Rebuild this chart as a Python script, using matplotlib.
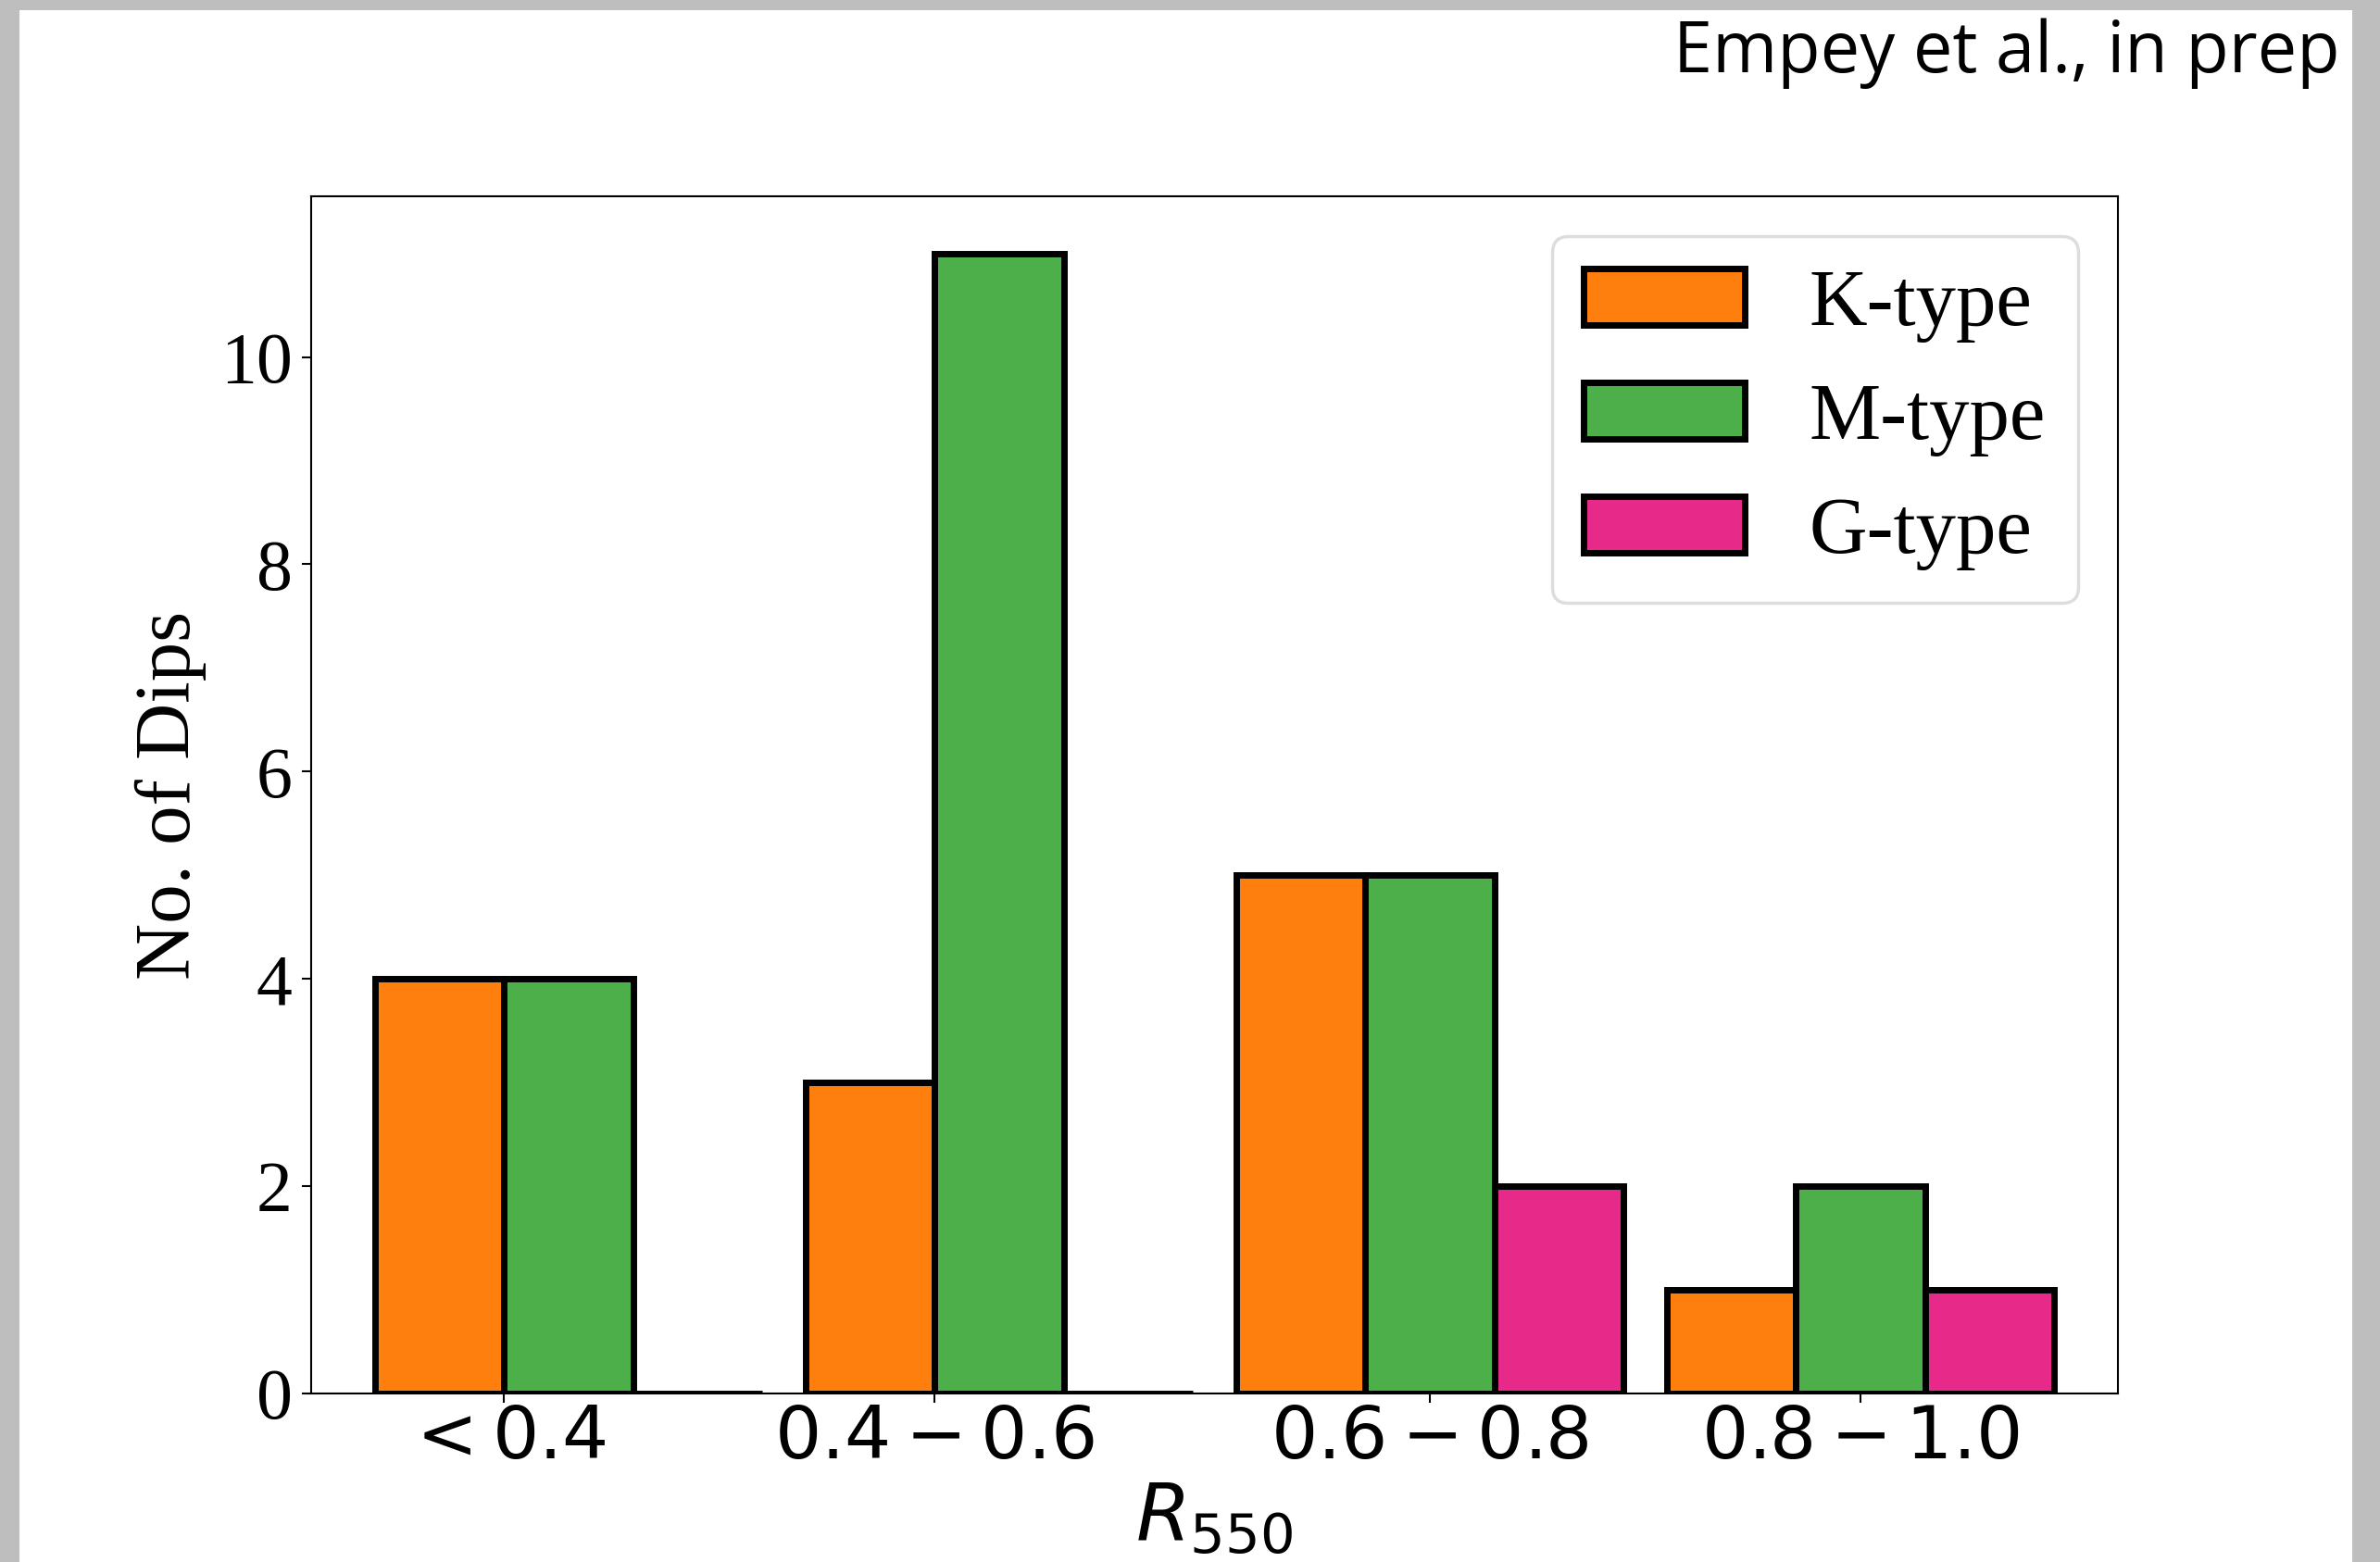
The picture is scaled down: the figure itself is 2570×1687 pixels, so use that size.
import matplotlib
matplotlib.use("Agg")
import matplotlib.pyplot as plt
from matplotlib.patches import Rectangle
import numpy as np

# ---- data ----
categories = [r"$<0.4$", r"$0.4-0.6$", r"$0.6-0.8$", r"$0.8-1.0$"]
k_type = [4, 3, 5, 1]
m_type = [4, 11, 5, 2]
g_type = [0, 0, 2, 1]
series_names = ["K-type", "M-type", "G-type"]
series_colors = ["#ff7f0e", "#4daf4a", "#e7298a"]
yticks = [0, 2, 4, 6, 8, 10]

plt.rcParams["font.family"] = ["Liberation Serif", "DejaVu Serif"]
plt.rcParams["mathtext.fontset"] = "dejavusans"

W, H = 2570, 1687
fig = plt.figure(figsize=(W / 100, H / 100), dpi=100)
fig.patch.set_facecolor("#bebebe")
fig.add_artist(Rectangle((21 / W, 0), (2540 - 21) / W, (H - 11) / H,
                         transform=fig.transFigure, facecolor="white",
                         edgecolor="none", zorder=-1))

ax_l, ax_r, ax_t, ax_b = 336, 2287, 212, 1505
ax = fig.add_axes([ax_l / W, (H - ax_b) / H, (ax_r - ax_l) / W, (ax_b - ax_t) / H])

x = np.arange(len(categories))
w = 0.3
offsets = [-0.15, 0.15, 0.45]
all_vals = [k_type, m_type, g_type]
for vals, off, name, col in zip(all_vals, offsets, series_names, series_colors):
    ax.bar(x + off, vals, width=w, color=col, edgecolor="black", linewidth=5,
           label=name, zorder=2)

# tick at the centre of the non-empty bars in each group
tick_pos = []
for i in range(len(categories)):
    cs = [i + off for vals, off in zip(all_vals, offsets) if vals[i] > 0]
    tick_pos.append(np.mean(cs))

ax.set_xlim(-0.448, 3.748)
ax.set_ylim(0, 11.55)
ax.set_xticks(tick_pos)
ax.set_xticklabels(categories)
ax.set_yticks(yticks)
ax.tick_params(axis="x", labelsize=57, length=7.5, width=1.5, pad=4)
ax.tick_params(axis="y", labelsize=56, length=7.5, width=1.5, pad=7)
for s in ax.spines.values():
    s.set_linewidth(1.5)

ax.set_xlabel(r"$R_{550}$", fontsize=61, labelpad=6)
ax.set_ylabel("No. of Dips", fontsize=61, labelpad=11)

leg = ax.legend(loc="upper right", fontsize=62.5, frameon=True, fancybox=True)
leg.get_frame().set_edgecolor("#d5d5d5")
leg.get_frame().set_linewidth(2.5)

fig.text(2527 / W, (H - 78) / H, "Empey et al., in prep", ha="right",
         va="baseline", fontsize=54.5, family=["Open Sans", "DejaVu Sans"])

fig.savefig("out.png", dpi=100, facecolor=fig.get_facecolor())
